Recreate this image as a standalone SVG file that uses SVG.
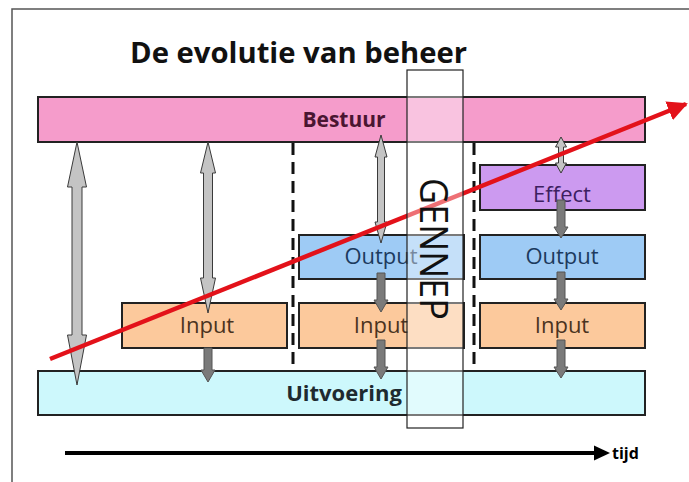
<svg xmlns="http://www.w3.org/2000/svg" width="689" height="482" viewBox="0 0 689 482">
<style>
.box{stroke:#222;stroke-width:2}
.lbl{font-family:"Open Sans","Liberation Sans",sans-serif;font-size:22px;text-anchor:middle}
.bold{font-family:"Open Sans","Liberation Sans",sans-serif;font-weight:bold;text-anchor:middle}
.ga{fill:#c4c4c4;stroke:#3a3a3a;stroke-width:1}
.da{fill:#7a7a7a;stroke:#555;stroke-width:1}
.dash{stroke:#111;stroke-width:3;stroke-dasharray:12 7;fill:none}
</style>
<defs>
<marker id="redhead" viewBox="0 0 10 10" refX="9" refY="5" markerWidth="4.5" markerHeight="4.5" orient="auto" markerUnits="strokeWidth">
<path d="M0,0 L10,5 L0,10 z" fill="#e3121a"/>
</marker>
</defs>
<rect width="689" height="482" fill="#fff"/>
<path d="M12,482 V9 H689" fill="none" stroke="#555" stroke-width="1.5"/>
<text id="title" x="130" y="63" font-family="'Open Sans','Liberation Sans',sans-serif" font-weight="bold" font-size="29" textLength="337" lengthAdjust="spacingAndGlyphs" fill="#111">De evolutie van beheer</text>

<g id="bestuur"><rect class="box" x="38" y="97" width="607" height="45" fill="#f59ccb"/><text class="bold" x="344" y="127" font-size="21" fill="#4a1632">Bestuur</text></g>
<g id="uitvoering"><rect class="box" x="38" y="371" width="607" height="44" fill="#cdf8fc"/><text class="bold" x="344" y="401" font-size="22" fill="#1e2a30">Uitvoering</text></g>
<g id="input1"><rect class="box" x="122" y="303" width="165" height="45" fill="#fcc99c"/><text class="lbl" x="207" y="333" fill="#4a3320">Input</text></g>
<g id="input2"><rect class="box" x="299" y="303" width="165" height="45" fill="#fcc99c"/><text class="lbl" x="381" y="333" fill="#4a3320">Input</text></g>
<g id="input3"><rect class="box" x="480" y="303" width="165" height="45" fill="#fcc99c"/><text class="lbl" x="562" y="333" fill="#4a3320">Input</text></g>
<g id="output2"><rect class="box" x="299" y="235" width="165" height="44" fill="#9ecbf5"/><text class="lbl" x="381" y="264" fill="#1c3a5e">Output</text></g>
<g id="output3"><rect class="box" x="480" y="235" width="165" height="44" fill="#9ecbf5"/><text class="lbl" x="562" y="264" fill="#1c3a5e">Output</text></g>
<g id="effect"><rect class="box" x="480" y="165" width="165" height="45" fill="#cc9af0"/><text class="lbl" x="562" y="202" fill="#3c2060">Effect</text></g>

<g id="connectors">
<line class="dash" x1="293" y1="143" x2="293" y2="371"/>
<line class="dash" x1="474" y1="143" x2="474" y2="371"/>
<polygon class="ga" points="77,142 86.5,187 82,187 82,335 86.5,335 77,385 67.5,335 72,335 72,187 67.5,187"/>
<polygon class="ga" points="208,142 215.5,173 212.5,173 212.5,278 215.5,278 208,313 200.5,278 203.5,278 203.5,173 200.5,173"/>
<polygon class="ga" points="381,135 387,157 384.5,157 384.5,222 387,222 381,243 375,222 377.5,222 377.5,157 375,157"/>
<polygon class="ga" points="561,137 566.5,147 563.5,147 563.5,163 566.5,163 561,173 555.5,163 558.5,163 558.5,147 555.5,147"/>
<polygon class="da" points="204,348 212,348 212,370 215,370 208,382 201,370 204,370"/>
<polygon class="da" points="377,273 385,273 385,300 388,300 381,312 374,300 377,300"/>
<polygon class="da" points="377,340 385,340 385,367 388,367 381,379 374,367 377,367"/>
<polygon class="da" points="557,200 565,200 565,227 568,227 561,238 554,227 557,227"/>
<polygon class="da" points="557,272 565,272 565,299 568,299 561,310 554,299 557,299"/>
<polygon class="da" points="557,340 565,340 565,367 568,367 561,378 554,367 557,367"/>
<line x1="50" y1="359" x2="686" y2="104" stroke="#e3121a" stroke-width="4.5" marker-end="url(#redhead)"/>
<line x1="65" y1="453" x2="596" y2="453" stroke="#000" stroke-width="4"/>
<polygon points="594,445.5 610,453 594,460.5" fill="#000"/>
</g>
<text id="tijd" x="612" y="459" font-family="'Open Sans','Liberation Sans',sans-serif" font-weight="bold" font-size="16" fill="#000">tijd</text>

<g id="gennep">
<rect x="407" y="70" width="56" height="358" fill="#fff" fill-opacity="0.4" stroke="#222" stroke-width="1.2"/>
<text transform="translate(420,178) rotate(90)" font-family="'Open Sans','Liberation Sans',sans-serif" font-size="38" textLength="142" lengthAdjust="spacingAndGlyphs" fill="#111">GENNEP</text>
</g>
</svg>
